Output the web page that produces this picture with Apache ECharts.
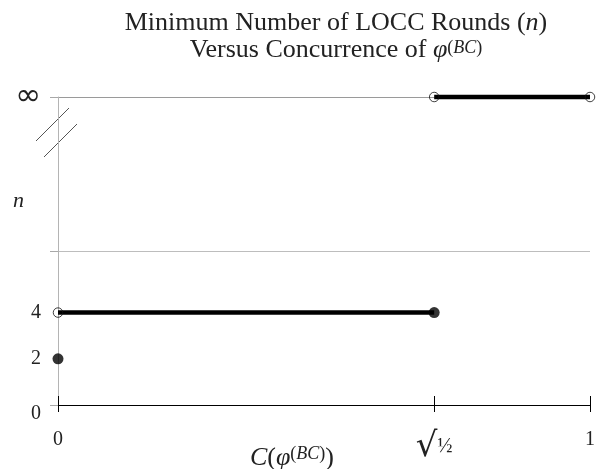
<!DOCTYPE html>
<html>
<head>
<meta charset="utf-8">
<script src="https://cdn.jsdelivr.net/npm/echarts@6/dist/echarts.min.js"></script>
<style>
html,body{margin:0;padding:0;background:#fff;}
#chart{width:597px;height:469px;}
</style>
</head>
<body>
<div id="chart"></div>
<script>
// ---- data ----
const SQRT_HALF = 0.7071;          // C = sqrt(1/2)
const INF = 13.33;                 // scale position used for "∞"
const BREAK_Y = 6.67;              // axis break guide line
const segmentLow = [[0, 4], [SQRT_HALF, 4]];       // n = 4 on (0, sqrt(1/2)]
const segmentHigh = [[SQRT_HALF, INF], [1, INF]];  // n = ∞ on (sqrt(1/2), 1]
const filledPoints = [[0, 2], [SQRT_HALF, 4]];
const openPoints = [[0, 4], [SQRT_HALF, INF], [1, INF]];
const xTickValues = [0, SQRT_HALF, 1];
const xTickLabels = ['0', '{rad|√}{fr|½}', '1'];
const yLabelValues = [0, 2, 4, INF];
const yLabelTexts = ['{z|0}', '2', '4', '{inf|∞}'];
const yGuideValues = [0, BREAK_Y, INF];

const FONT = "'Liberation Serif', 'DejaVu Serif', serif";
const chart = echarts.init(document.getElementById('chart'));

function lookup(vals, texts, v) {
  for (let i = 0; i < vals.length; i++) {
    if (Math.abs(vals[i] - v) < 1e-6) return texts[i];
  }
  return '';
}

const option = {
  animation: false,
  backgroundColor: '#fff',
  title: {
    text: 'Minimum Number of LOCC Rounds ({i|n})\nVersus Concurrence of {i|φ}{s|(}{si|BC}{s|)}',
    left: 336, textAlign: 'center', top: 10, padding: 0,
    textStyle: {
      fontFamily: FONT, fontSize: 26, fontWeight: 'normal', color: '#222', lineHeight: 27,
      rich: {
        i: {fontFamily: FONT, fontSize: 26, fontStyle: 'italic', color: '#222', lineHeight: 27},
        s: {fontFamily: FONT, fontSize: 18, color: '#222', lineHeight: 18, verticalAlign: 'top', padding: [2, 0, 0, 0]},
        si: {fontFamily: FONT, fontSize: 18, fontStyle: 'italic', color: '#222', lineHeight: 18, verticalAlign: 'top', padding: [2, 0, 0, 0]}
      }
    }
  },
  grid: {left: 58, right: 7, top: 97, bottom: 64, containLabel: false, outerBoundsMode: 'none'},
  xAxis: [{
    type: 'value', min: 0, max: 1, position: 'bottom',
    axisLine: {show: true, lineStyle: {color: '#000', width: 1}},
    axisTick: {show: true, customValues: xTickValues, length: 7, lineStyle: {color: '#000', width: 1}},
    axisLabel: {
      customValues: xTickValues, margin: 25,
      formatter: v => lookup(xTickValues, xTickLabels, v),
      fontFamily: FONT, fontSize: 20, color: '#222',
      rich: {
        rad: {fontFamily: "'DejaVu Serif', serif", fontSize: 34, color: '#222'},
        fr: {fontFamily: FONT, fontSize: 20, color: '#222'}
      }
    },
    splitLine: {show: false},
    name: '{i|C}({i|φ}{s|(}{si|BC}{s|)})',
    nameLocation: 'middle', nameGap: 40, nameMoveOverlap: false,
    nameTextStyle: {
      fontFamily: FONT, fontSize: 26, color: '#222', padding: [0, 64, 0, 0], lineHeight: 26,
      rich: {
        i: {fontFamily: FONT, fontSize: 26, fontStyle: 'italic', color: '#222', lineHeight: 26},
        s: {fontFamily: FONT, fontSize: 18, color: '#222', lineHeight: 18, verticalAlign: 'top'},
        si: {fontFamily: FONT, fontSize: 18, fontStyle: 'italic', color: '#222', lineHeight: 18, verticalAlign: 'top'}
      }
    }
  }, {
    type: 'value', min: 0, max: 1, position: 'bottom',
    axisLine: {show: false},
    axisTick: {show: true, inside: true, customValues: xTickValues, length: 9, lineStyle: {color: '#000', width: 1}},
    axisLabel: {show: false},
    splitLine: {show: false}
  }],
  yAxis: {
    type: 'value', min: 0, max: INF,
    axisLine: {show: true, lineStyle: {color: '#b4b4b4', width: 1}},
    axisTick: {show: true, customValues: yGuideValues, length: 8, lineStyle: {color: '#a8a8a8', width: 1}},
    axisLabel: {
      customValues: yLabelValues, margin: 17,
      formatter: v => lookup(yLabelValues, yLabelTexts, v),
      fontFamily: FONT, fontSize: 20, color: '#222',
      rich: {
        z: {fontFamily: FONT, fontSize: 20, color: '#222', padding: [17, 0, 0, 0]},
        inf: {fontFamily: "'DejaVu Sans', sans-serif", fontSize: 31, color: '#222'}
      }
    },
    splitLine: {show: true, lineStyle: {color: ['#000', '#bdbdbd', '#9a9a9a'], width: 1}},
    name: '{i|n}', nameLocation: 'middle', nameRotate: 0, nameGap: 34, nameMoveOverlap: false,
    nameTextStyle: {
      fontFamily: FONT, fontSize: 22, color: '#222', padding: [0, 0, 100, 0],
      rich: {i: {fontFamily: FONT, fontSize: 22, fontStyle: 'italic', color: '#222'}}
    }
  },
  series: [
    {type: 'line', data: segmentLow, symbol: 'none', clip: false, z: 3,
     lineStyle: {color: '#000', width: 4.5}},
    {type: 'line', data: segmentHigh, symbol: 'none', clip: false, z: 3,
     lineStyle: {color: '#000', width: 4.5}},
    {type: 'scatter', data: filledPoints, symbol: 'circle', symbolSize: 11, clip: false, z: 4,
     itemStyle: {color: '#000'}},
    {type: 'scatter', data: openPoints, symbol: 'circle', symbolSize: 9.5, clip: false, z: 4,
     itemStyle: {color: 'rgba(0,0,0,0)', borderColor: '#111', borderWidth: 1}}
  ]
};
chart.setOption(option);

// axis-break marks drawn relative to the top of the y axis
const axisTopPx = chart.convertToPixel({gridIndex: 0}, [0, INF]);
const ox = axisTopPx[0], oy = axisTopPx[1];
chart.setOption({
  graphic: [
    {type: 'line', shape: {x1: ox - 22, y1: oy + 44, x2: ox + 11, y2: oy + 11},
     style: {stroke: '#555', lineWidth: 1}, silent: true},
    {type: 'line', shape: {x1: ox - 14, y1: oy + 60, x2: ox + 19, y2: oy + 27},
     style: {stroke: '#555', lineWidth: 1}, silent: true}
  ]
});
</script>
</body>
</html>
